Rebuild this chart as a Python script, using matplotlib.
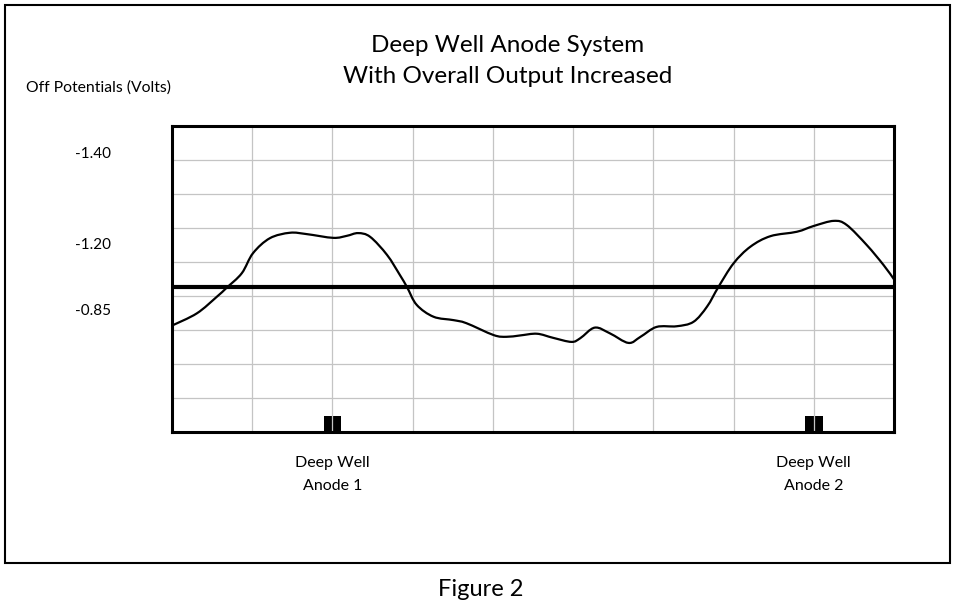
import matplotlib
matplotlib.use("Agg")
import matplotlib.pyplot as plt
from matplotlib.patches import Rectangle, PathPatch
from matplotlib.path import Path
import numpy as np

# Data (x in grid divisions along the line, y in grid divisions above the bottom)
profile_x = [0.0, 0.31, 0.56, 0.68, 0.87, 1.01, 1.22, 1.47, 1.68, 2.01, 2.18, 2.32,
             2.47, 2.68, 2.84, 2.93, 3.05, 3.26, 3.51, 3.67, 4.01, 4.17, 4.34, 4.55,
             4.75, 4.98, 5.09, 5.27, 5.46, 5.69, 5.84, 6.04, 6.29, 6.50, 6.67, 6.81,
             7.00, 7.21, 7.46, 7.79, 8.00, 8.25, 8.41, 8.66, 8.87, 9.0]
profile_y = [3.13, 3.49, 3.98, 4.24, 4.67, 5.26, 5.70, 5.86, 5.82, 5.71, 5.77, 5.85,
             5.74, 5.21, 4.62, 4.26, 3.74, 3.39, 3.29, 3.20, 2.85, 2.80, 2.84, 2.89,
             2.77, 2.65, 2.76, 3.07, 2.90, 2.62, 2.80, 3.09, 3.11, 3.24, 3.69, 4.26,
             4.96, 5.45, 5.76, 5.89, 6.06, 6.21, 6.09, 5.50, 4.91, 4.49]
criterion_level = 4.26
anode_x = [2.0, 8.0]
anode_labels = ["Deep Well\nAnode 1", "Deep Well\nAnode 2"]
ytick_pos = [8.21, 5.53, 3.61]
ytick_labels = ["-1.40", "-1.20", "-0.85"]

FONT = "Lato"


def smooth_path(xs, ys):
    """Catmull-Rom through the points, expressed as cubic Bezier segments."""
    p = np.column_stack([xs, ys]).astype(float)
    verts = [p[0]]
    codes = [Path.MOVETO]
    n = len(p)
    for i in range(n - 1):
        p0 = p[i - 1] if i > 0 else p[i]
        p1, p2 = p[i], p[i + 1]
        p3 = p[i + 2] if i + 2 < n else p[i + 1]
        c1 = p1 + (p2 - p0) / 6.0
        c2 = p2 - (p3 - p1) / 6.0
        verts += [c1, c2, p2]
        codes += [Path.CURVE4] * 3
    return Path(verts, codes)


fig = plt.figure(figsize=(9.56, 6.14), dpi=100)
ax = fig.add_axes([172 / 956, (614 - 432) / 614, (894 - 172) / 956, (432 - 126) / 614])
ax.set_xlim(0, 9)
ax.set_ylim(0, 9)

# grid
ax.set_xticks(range(10))
ax.set_xticklabels([])
ax.set_yticks(range(10), minor=True)
ax.set_yticks(ytick_pos)
ax.set_yticklabels(ytick_labels, fontsize=11, family=FONT)
ax.tick_params(axis="both", which="both", length=0)
ax.tick_params(axis="y", pad=44)
ax.grid(True, which="minor", axis="y", color="#c4c4c4", lw=0.9)
ax.grid(True, which="major", axis="x", color="#c4c4c4", lw=0.9)
ax.grid(False, which="major", axis="y")
ax.set_axisbelow(False)
for s in ax.spines.values():
    s.set_linewidth(2.2)
    s.set_zorder(5)

# anodes
for a_x in anode_x:
    ax.bar(a_x, 0.48, width=0.22, bottom=0, color="black", zorder=1)

# criterion line
ax.axhline(criterion_level, color="black", lw=3, zorder=3)
# profile (smooth curve through the read points)
ax.add_patch(PathPatch(smooth_path(profile_x, profile_y), facecolor="none",
                       edgecolor="black", lw=1.6, zorder=4, clip_on=True))

# labels under anodes
for a_x, lab in zip(anode_x, anode_labels):
    xd = ax.transData.transform((a_x, 0))[0]
    fig.text(xd / 956, 1 - 474.5 / 614, lab, ha="center", va="center",
             fontsize=11.5, family=FONT, linespacing=1.75)

fig.text(508 / 956, 1 - 61 / 614, "Deep Well Anode System\nWith Overall Output Increased",
         ha="center", va="center", fontsize=17.5, family=FONT, linespacing=1.62)
fig.text(26 / 956, 1 - 88 / 614, "Off Potentials (Volts)", ha="left", va="center",
         fontsize=11.3, family=FONT)
fig.text(481 / 956, 1 - 590 / 614, "Figure 2", ha="center", va="center",
         fontsize=17, family=FONT)

fig.patches.append(Rectangle((5 / 956, 1 - 563 / 614), 945 / 956, 558 / 614,
                             transform=fig.transFigure, fill=False, lw=1.5,
                             edgecolor="black"))

fig.savefig("out.png", dpi=100)
